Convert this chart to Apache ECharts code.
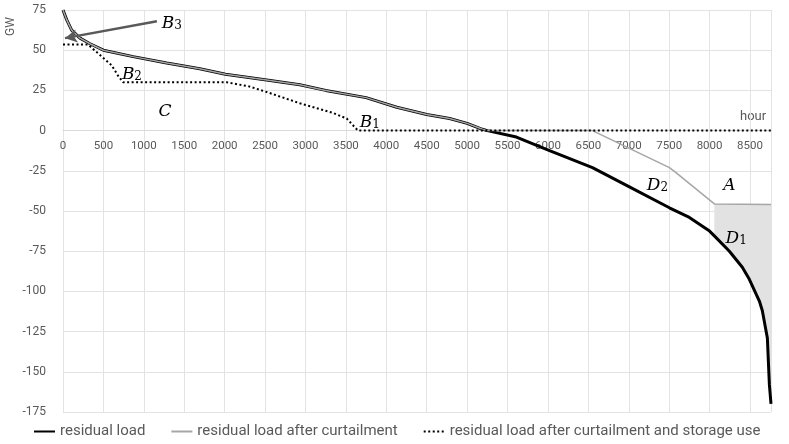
<!DOCTYPE html>
<html>
<head>
<meta charset="utf-8">
<script src="https://cdn.jsdelivr.net/npm/echarts@6/dist/echarts.min.js"></script>
<style>html,body{margin:0;padding:0;background:#fff;}#c{width:789px;height:444px;}</style>
</head>
<body>
<div id="c"></div>
<script>
// ---- data ----
const seriesNames = ['residual load', 'residual load after curtailment', 'residual load after curtailment and storage use'];
const residualHours = [0, 45, 107, 210, 334, 500, 868, 1283, 1693, 2010, 2520, 2930, 3250, 3750, 4130, 4500, 4783, 5000, 5190, 5250, 5610, 6020, 6551, 7008, 7503, 7750, 8000, 8059, 8245, 8405, 8492, 8616, 8653, 8715, 8740, 8760];
const residualValues = [75, 69, 62.5, 57.5, 54, 50, 46, 42, 38.5, 35, 31.5, 28.5, 25, 20.5, 14.5, 10, 7.5, 4.5, 0.8, 0, -4, -12.5, -23, -35, -48, -54, -62.5, -65.5, -75, -85, -92.5, -106, -112, -129, -158, -170];
const curtailHours = [0, 45, 107, 210, 334, 500, 868, 1283, 1693, 2010, 2520, 2930, 3250, 3750, 4130, 4500, 4783, 5000, 5190, 5250, 6551, 7503, 7565, 8059, 8760];
const curtailValues = [75, 69, 62.5, 57.5, 54, 50, 46, 42, 38.5, 35, 31.5, 28.5, 25, 20.5, 14.5, 10, 7.5, 4.5, 0.8, 0, 0, -23, -25.4, -45.6, -46];
const storageHours = [0, 310, 457, 602, 683, 745, 2030, 2300, 2520, 2930, 3340, 3510, 3650, 8760];
const storageValues = [53.5, 53.5, 47, 40.6, 34, 30, 30, 27.5, 24, 17, 11, 7.5, 0, 0];
const xTicks = {min: 0, max: 8760, interval: 500};
const yTicks = {min: -175, max: 75, interval: 25};
// annotation labels: [text-rich, hour, GW]
const annotations = [
  ['{i|B}{s|3}', 1347, 67.5],
  ['{i|B}{s|2}', 853, 36],
  ['{i|C}', 1261, 12.5],
  ['{i|B}{s|1}', 3795, 6],
  ['{i|D}{s|2}', 7355, -33],
  ['{i|A}', 8245, -33],
  ['{i|D}{s|1}', 8330, -66]
];
const arrowFrom = [1162, 68];
const arrowTo = [25, 57.5];
const shadeStartHour = 8059;

// ---- build ----
const pairs = (h, v) => h.map((x, i) => [x, v[i]]);
const residualData = pairs(residualHours, residualValues);
const curtailData = pairs(curtailHours, curtailValues);
const storageData = pairs(storageHours, storageValues);

// shaded polygon between curtailment line and residual load for hours >= shadeStartHour
const shadeTop = curtailData.filter(p => p[0] >= shadeStartHour);
const shadeBottom = residualData.filter(p => p[0] >= shadeStartHour).reverse();
const shadePoly = shadeTop.concat(shadeBottom);

const FONT = 'Roboto';
const richStyles = {
  i: {fontFamily: 'DejaVu Serif', fontStyle: 'italic', fontSize: 17, color: '#000', lineHeight: 20, verticalAlign: 'bottom'},
  s: {fontFamily: 'DejaVu Serif', fontSize: 12, color: '#000', lineHeight: 8, verticalAlign: 'bottom'}
};

const chart = echarts.init(document.getElementById('c'), null, {renderer: 'canvas'});
chart.setOption({
  animation: false,
  backgroundColor: '#fff',
  grid: {left: 63, right: 18, top: 10, bottom: 32, containLabel: false},
  legend: {
    bottom: 0, left: 28,
    itemWidth: 21, itemHeight: 10, itemGap: 25,
    textStyle: {fontFamily: FONT, fontSize: 15, color: '#595959'},
    itemStyle: {color: 'rgba(0,0,0,0)', borderWidth: 0, opacity: 0},
    data: seriesNames
  },
  xAxis: {
    type: 'value', min: xTicks.min, max: xTicks.max, interval: xTicks.interval,
    axisLine: {show: true, onZero: false, lineStyle: {color: '#d9d9d9', width: 1}},
    axisTick: {show: false},
    axisLabel: {fontFamily: FONT, fontSize: 11.5, color: '#595959', margin: 10, showMaxLabel: false,
      formatter: v => String(v)},
    splitLine: {show: true, lineStyle: {color: '#e3e3e3', width: 1}}
  },
  yAxis: {
    type: 'value', min: yTicks.min, max: yTicks.max, interval: yTicks.interval,
    axisLine: {show: false, onZero: false}, axisTick: {show: false},
    axisLabel: {fontFamily: FONT, fontSize: 12, color: '#595959', margin: 17},
    splitLine: {show: true, lineStyle: {color: '#e3e3e3', width: 1}}
  },
  graphic: [
    {type: 'text', left: 740, top: 110, style: {text: 'hour', fontFamily: FONT, fontSize: 13, fill: '#595959'}},
    {type: 'text', x: 5, y: 36, rotation: Math.PI / 2, style: {text: 'GW', fontFamily: FONT, fontSize: 12, fill: '#595959'}}
  ],
  series: [
    {
      type: 'custom', name: 'shade', silent: true, z: 1,
      data: [shadePoly[0]],
      renderItem: function (params, api) {
        return {type: 'polygon', shape: {points: shadePoly.map(p => api.coord(p))}, style: {fill: '#e2e2e2'}};
      }
    },
    {
      name: seriesNames[0], type: 'line', data: residualData, showSymbol: false, symbol: 'none', z: 3,
      lineStyle: {color: '#000', width: 3}, itemStyle: {color: '#000'}
    },
    {
      name: seriesNames[1], type: 'line', data: curtailData, showSymbol: false, symbol: 'none', z: 4,
      lineStyle: {color: '#a6a6a6', width: 1.5}, itemStyle: {color: '#a6a6a6'}
    },
    {
      name: seriesNames[2], type: 'line', data: storageData, showSymbol: false, symbol: 'none', z: 5,
      lineStyle: {color: '#000', width: 2, type: [2, 2.5]}, itemStyle: {color: '#000'},
      markLine: {
        silent: true, symbol: ['none', 'arrow'], symbolSize: [10, 12],
        label: {show: false},
        lineStyle: {color: '#595959', width: 2.5, type: 'solid'},
        data: [[{coord: arrowFrom}, {coord: arrowTo}]]
      },
      markPoint: {
        silent: true, symbol: 'circle', symbolSize: 0,
        label: {show: true, position: 'inside', rich: richStyles},
        data: annotations.map(a => ({coord: [a[1], a[2]], label: {formatter: a[0]}}))
      }
    }
  ]
});
// place the x axis (line + labels) on the y = 0 line, using the chart's own scale
const zeroPx = chart.convertToPixel({yAxisIndex: 0}, 0);
const bottomPx = chart.convertToPixel({yAxisIndex: 0}, yTicks.min);
chart.setOption({xAxis: {offset: zeroPx - bottomPx}});
</script>
</body>
</html>
